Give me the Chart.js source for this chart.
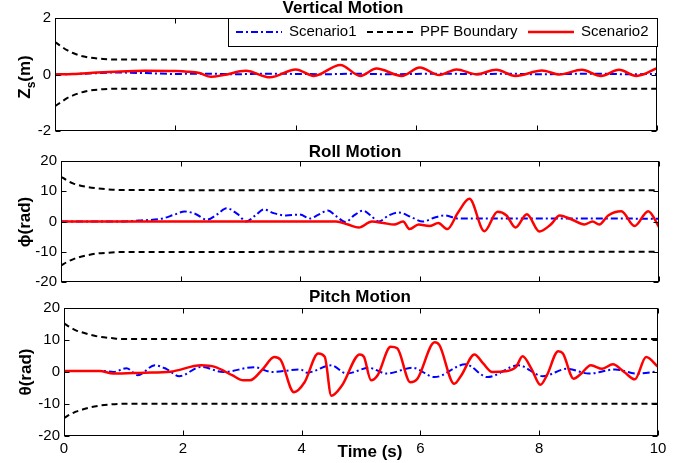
<!DOCTYPE html>
<html><head><meta charset="utf-8">
<script src="https://cdn.jsdelivr.net/npm/chart.js@4.4.0/dist/chart.umd.min.js"></script>
<style>
html,body{margin:0;padding:0;background:#fff;width:689px;height:463px;overflow:hidden}
canvas{position:absolute;left:0;top:0}
</style></head><body>
<canvas id="c1" width="689" height="463"></canvas>
<canvas id="c2" width="689" height="463"></canvas>
<canvas id="c3" width="689" height="463"></canvas>
<script>
// ---------- data ----------
const timeTicks = [0, 2, 4, 6, 8, 10];
const zTicks = [-2, 0, 2];
const angTicks = [-20, -10, 0, 10, 20];

// Vertical motion
const zS1T = [0,0.5,1,1.5,2,2.5,3,3.5,4,4.5,5,5.5,6,6.5,7,7.5,8,8.5,9,9.5,10];
const zS1Y = [0,0.03,0.07,0.05,0.02,0.03,0.01,0.03,0.02,0.01,0.03,0.01,0.02,0.03,0.01,0.03,0.01,0.02,0.03,0.01,0.02];
const zS2T = [0,0.3,0.7,1.0,1.5,2.0,2.2,2.4,2.59,2.8,3.17,3.57,4.0,4.3,4.74,5.07,5.34,5.76,6.06,6.38,6.67,7.0,7.33,7.65,8.09,8.38,8.75,9.07,9.37,9.66,10];
const zS2Y = [0,0.02,0.07,0.1,0.13,0.12,0.1,0.05,-0.08,-0.02,0.13,-0.1,0.18,-0.05,0.34,-0.05,0.21,-0.05,0.25,-0.02,0.18,0.01,0.17,-0.05,0.14,0,0.17,-0.05,0.17,-0.05,0.22];
const zBndT = [0,0.1,0.2,0.3,0.4,0.5,0.6,0.8,1.0,10];
const zBndUp = [1.15,1.0,0.86,0.76,0.68,0.63,0.59,0.55,0.53,0.53];
const zBndLo = [-1.12,-0.98,-0.84,-0.74,-0.66,-0.6,-0.56,-0.52,-0.5,-0.5];

// Roll motion
const rS1T = [0,1.0,1.3,1.7,1.9,2.07,2.25,2.44,2.6,2.77,2.95,3.1,3.25,3.39,3.55,3.76,3.99,4.17,4.3,4.46,4.6,4.76,4.9,5.05,5.18,5.31,5.48,5.65,5.85,6.05,6.25,6.42,6.64,7,8,9,10];
const rS1Y = [0,0,0.3,1.0,2.3,3.3,2.5,0.6,2.2,4.4,2.5,0,2.0,4.0,2.8,2.0,2.3,1.0,2.2,3.6,1.8,-0.2,2.0,3.6,2.0,0,2.0,3.0,1.5,0,1.3,2.0,1.0,1.0,1.0,1.0,0.9];
const rS2T = [0,4.6,4.8,4.98,5.2,5.39,5.57,5.72,5.83,5.98,6.16,6.31,6.46,6.64,6.83,7.08,7.3,7.45,7.6,7.79,8.0,8.19,8.34,8.56,8.75,8.89,9.0,9.15,9.37,9.59,9.82,10];
const rS2Y = [0,0,-1,-2,0,-0.5,-1,0,-2.5,-1,-1.5,-0.5,-2.5,3,7.5,-3.2,3.2,2,-2,2.4,-3.3,-1,2,0.5,-1,0,-1,2,3.4,-1.5,3.4,-1.8];
const rBndT = [0,0.1,0.2,0.3,0.45,0.6,0.8,1.0,10];
const rBndUp = [14.8,13.6,12.6,12.0,11.4,11.0,10.6,10.4,10.3];
const rBndLo = [-14.6,-13.4,-12.5,-11.8,-11.1,-10.6,-10.3,-10.1,-10.0];

// Pitch motion
const pS1T = [0,0.68,0.83,1.05,1.24,1.53,1.72,1.94,2.31,2.68,3.2,3.5,3.98,4.09,4.5,4.76,5.13,5.43,5.87,6.24,6.76,7.13,7.65,8.06,8.47,8.84,9.28,9.65,10];
const pS1Y = [0.3,0.3,0,1.2,-1,2.1,1,-1.3,1.6,0,1.5,0,0.8,-0.2,2.1,-0.5,1.3,-0.5,1.3,-1.6,2.4,-1.6,2.1,-1.3,1,-0.5,0.8,-0.5,0.2];
const pS2T = [0,0.6,0.83,1.35,1.79,2.31,2.54,2.83,3.02,3.13,3.35,3.54,3.65,3.87,4.05,4.28,4.39,4.5,4.68,4.98,5.05,5.17,5.28,5.5,5.61,5.83,5.95,6.24,6.32,6.57,6.69,6.91,7.06,7.21,7.43,7.61,7.72,7.87,8.02,8.13,8.32,8.4,8.58,8.69,8.87,9.06,9.24,9.43,9.61,9.8,10];
const pS2Y = [0.3,0.3,-0.5,-0.2,0.1,2.1,1.6,-1,-2.6,-2.6,1,4.7,3.7,-6.3,-3.2,5.8,4.7,-7.4,-4.2,5.5,4.7,-2.6,-1,7.9,7.4,-3.2,-2.1,9.3,8.4,-3.7,-1,5.5,2.6,0,0.2,1.6,4.9,1,-4,-1,6.5,5.8,-2.1,-0.8,2.1,1,2.4,0,-2.3,4.7,1.6];
const pBndT = [0,0.1,0.2,0.3,0.45,0.6,0.8,1.0,10];
const pBndUp = [15.2,14.0,13.0,12.4,11.6,11.0,10.6,10.3,10.3];
const pBndLo = [-14.4,-13.3,-12.4,-11.8,-11.0,-10.5,-10.1,-9.9,-9.9];

const legendLabels = ['Scenario1', 'PPF Boundary', 'Scenario2'];

// ---------- styling ----------
const FONT = '"Liberation Sans", Arial, Helvetica, sans-serif';
const styles = {
  s1: {borderColor:'#0000ff', borderWidth:2, borderDash:[7,3,2,3], cubicInterpolationMode:'monotone'},
  ppf: {borderColor:'#000000', borderWidth:2, borderDash:[6,4], cubicInterpolationMode:'monotone'},
  s2: {borderColor:'#ff0000', borderWidth:2.5, cubicInterpolationMode:'monotone'}
};
function ds(t, v, kind, label) {
  return Object.assign({label, kind, data: t.map((x, i) => ({x, y: v[i]})), fill:false, pointRadius:0}, styles[kind]);
}

function framePlugin(p) {
  return {
    id: 'frame_' + p.id,
    afterDraw(chart) {
      const {ctx, chartArea: a, scales: {x, y}} = chart;
      ctx.save();
      ctx.strokeStyle = '#000'; ctx.lineWidth = 1; ctx.setLineDash([]);
      const L = Math.round(a.left) + 0.5, R = Math.round(a.right) - 0.5;
      const T = Math.round(a.top) + 0.5, B = Math.round(a.bottom) - 0.5;
      ctx.strokeRect(L, T, R - L, B - T);
      ctx.beginPath();
      x.ticks.forEach(tk => {
        const px = Math.round(x.getPixelForValue(tk.value)) + 0.5;
        ctx.moveTo(px, B); ctx.lineTo(px, B - 5);
        ctx.moveTo(px, T); ctx.lineTo(px, T + 5);
      });
      y.ticks.forEach(tk => {
        const py = Math.round(y.getPixelForValue(tk.value)) + 0.5;
        ctx.moveTo(L, py); ctx.lineTo(L + 5, py);
        ctx.moveTo(R, py); ctx.lineTo(R - 5, py);
      });
      ctx.stroke();
      // panel title
      ctx.fillStyle = '#000';
      ctx.font = 'bold 17px ' + FONT;
      ctx.textAlign = 'center'; ctx.textBaseline = 'middle';
      ctx.fillText(p.title, p.titleX, p.titleY);
      // y-axis label (rotated, with optional subscript)
      ctx.save();
      ctx.translate(p.yLabX, p.yLabY);
      ctx.rotate(-Math.PI / 2);
      let total = 0;
      const parts = p.yLabel.map(pt => {
        ctx.font = (pt.sub ? 'bold 12px ' : 'bold 17px ') + FONT;
        const w = ctx.measureText(pt.text).width;
        total += w;
        return Object.assign({w}, pt);
      });
      let cx = -total / 2;
      ctx.textAlign = 'left';
      parts.forEach(pt => {
        ctx.font = (pt.sub ? 'bold 12px ' : 'bold 17px ') + FONT;
        ctx.fillText(pt.text, cx, pt.sub ? 7 : 0);
        cx += pt.w;
      });
      ctx.restore();
      // x-axis title
      if (p.xTitle) {
        ctx.font = 'bold 17px ' + FONT;
        ctx.textAlign = 'center'; ctx.textBaseline = 'middle';
        ctx.fillText(p.xTitle, p.xTitleX, p.xTitleY);
      }
      // legend
      if (p.legend) {
        const lg = p.legend;
        ctx.fillStyle = '#fff';
        ctx.fillRect(lg.x, lg.y, lg.w, lg.h);
        ctx.strokeStyle = '#000'; ctx.lineWidth = 1;
        ctx.strokeRect(lg.x + 0.5, lg.y + 0.5, lg.w, lg.h);
        const kinds = ['s1', 'ppf', 's2'];
        ctx.font = '15px ' + FONT;
        ctx.textAlign = 'left'; ctx.textBaseline = 'middle';
        kinds.forEach((k, i) => {
          const dset = chart.data.datasets.find(d => d.kind === k);
          const sx = lg.x + lg.offsets[i], my = lg.y + lg.h / 2;
          ctx.strokeStyle = dset.borderColor;
          ctx.lineWidth = dset.borderWidth;
          ctx.setLineDash(dset.borderDash || []);
          ctx.beginPath(); ctx.moveTo(sx, my); ctx.lineTo(sx + 46, my); ctx.stroke();
          ctx.setLineDash([]);
          ctx.fillStyle = '#000';
          ctx.fillText(legendLabels[i], sx + 53, my);
        });
      }
      ctx.restore();
    }
  };
}

function makeChart(p, datasets, yTicks) {
  return new Chart(document.getElementById(p.id), {
    type: 'line',
    data: {datasets},
    options: {
      responsive: false, animation: false, devicePixelRatio: 1,
      layout: {padding: {left: 0, top: p.top, right: 689 - p.right, bottom: p.showX ? 0 : 463 - p.bottom}},
      plugins: {legend: {display: false}, tooltip: {enabled: false}, title: {display: false}},
      scales: {
        x: {
          type: 'linear', min: 0, max: 10,
          afterBuildTicks: s => { s.ticks = timeTicks.map(v => ({value: v})); },
          ticks: {display: p.showX, color: '#000', font: {family: FONT, size: 15}, padding: 4, maxRotation: 0},
          grid: {display: false, drawTicks: false}, border: {display: false},
          afterFit: s => { s.height = p.showX ? 463 - p.bottom : 0; }
        },
        y: {
          type: 'linear', min: yTicks[0], max: yTicks[yTicks.length - 1],
          afterBuildTicks: s => { s.ticks = yTicks.map(v => ({value: v})); },
          ticks: {color: '#000', font: {family: FONT, size: 15}, padding: 4},
          grid: {display: false, drawTicks: false}, border: {display: false},
          afterFit: s => { s.width = p.left; }
        }
      }
    },
    plugins: [framePlugin(p)]
  });
}

makeChart({
  id: 'c1', left: 55, top: 18, right: 657, bottom: 131, showX: false,
  title: 'Vertical Motion', titleX: 343, titleY: 8,
  yLabel: [{text: 'Z'}, {text: 's', sub: true}, {text: '(m)'}], yLabX: 25, yLabY: 77,
  legend: {x: 228, y: 18, w: 429, h: 28, offsets: [8, 139, 300]}
}, [
  ds(zS2T, zS2Y, 's2', 'Scenario2'),
  ds(zS1T, zS1Y, 's1', 'Scenario1'),
  ds(zBndT, zBndUp, 'ppf', 'PPF Boundary'),
  ds(zBndT, zBndLo, 'ppf', 'PPF Boundary')
], zTicks);

makeChart({
  id: 'c2', left: 61, top: 161, right: 659, bottom: 282, showX: false,
  title: 'Roll Motion', titleX: 355, titleY: 152,
  yLabel: [{text: 'ϕ(rad)'}], yLabX: 25, yLabY: 222
}, [
  ds(rS2T, rS2Y, 's2', 'Scenario2'),
  ds(rS1T, rS1Y, 's1', 'Scenario1'),
  ds(rBndT, rBndUp, 'ppf', 'PPF Boundary'),
  ds(rBndT, rBndLo, 'ppf', 'PPF Boundary')
], angTicks);

makeChart({
  id: 'c3', left: 64, top: 308, right: 658, bottom: 436, showX: true,
  title: 'Pitch Motion', titleX: 360, titleY: 297,
  yLabel: [{text: 'θ(rad)'}], yLabX: 26, yLabY: 372,
  xTitle: 'Time (s)', xTitleX: 370, xTitleY: 452
}, [
  ds(pS2T, pS2Y, 's2', 'Scenario2'),
  ds(pS1T, pS1Y, 's1', 'Scenario1'),
  ds(pBndT, pBndUp, 'ppf', 'PPF Boundary'),
  ds(pBndT, pBndLo, 'ppf', 'PPF Boundary')
], angTicks);
</script>
</body></html>
